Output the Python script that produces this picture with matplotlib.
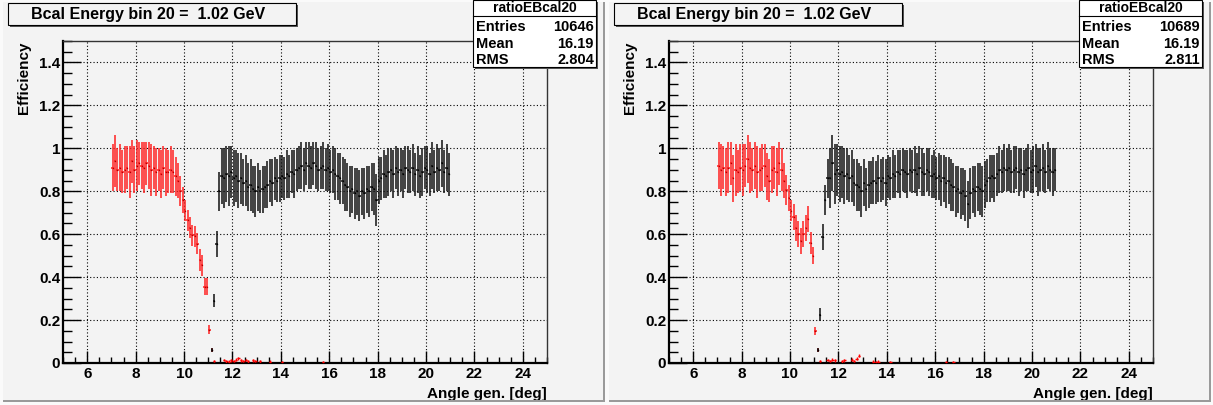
import numpy as np
import matplotlib
matplotlib.use("Agg")
import matplotlib.pyplot as plt
from matplotlib.patches import Rectangle
from matplotlib.ticker import MultipleLocator, FormatStrFormatter

plt.rcParams['font.family'] = ['Liberation Sans', 'DejaVu Sans']

W, H = 1213, 405
BIN = 0.1
XERR = 0.05

title = "Bcal Energy bin 20 =  1.02 GeV"
hist_name = "ratioEBcal20"

# ---------------- left panel ----------------
left_red_start = 7.05
left_red = [0.91, 0.94, 0.90, 0.91, 0.89, 0.90, 0.91, 0.89, 0.94, 0.90,
            0.92, 0.93, 0.92, 0.91, 0.93, 0.92, 0.90, 0.91, 0.89, 0.90,
            0.88, 0.91, 0.89, 0.89, 0.90, 0.89, 0.87, 0.85, 0.80, 0.76,
            0.71, 0.665, 0.63, 0.595, 0.59, 0.556, 0.48, 0.455, 0.355, 0.355,
            0.155, 0.06]
left_red_err = [0.11, 0.12, 0.10, 0.11, 0.10, 0.11, 0.10, 0.12, 0.10, 0.11,
                0.12, 0.10, 0.11, 0.12, 0.10, 0.11, 0.12, 0.10, 0.11, 0.10,
                0.11, 0.10, 0.11, 0.10, 0.11, 0.10, 0.09, 0.08, 0.07, 0.06,
                0.05, 0.05, 0.05, 0.05, 0.05, 0.05, 0.05, 0.05, 0.04, 0.04,
                0.02, 0.01]
left_blk_start = 11.15
left_blk = [0.06, 0.29, 0.555, 0.80, 0.87, 0.86, 0.88, 0.87, 0.89, 0.86,
            0.87, 0.85, 0.86, 0.84, 0.85, 0.82, 0.83, 0.81, 0.80, 0.82,
            0.80, 0.81, 0.82, 0.83, 0.85, 0.84, 0.86, 0.85, 0.86, 0.87,
            0.86, 0.88, 0.87, 0.89, 0.88, 0.90, 0.91, 0.92, 0.90, 0.93,
            0.92, 0.91, 0.93, 0.92, 0.90, 0.91, 0.92, 0.90, 0.91, 0.89,
            0.90, 0.88, 0.87, 0.86, 0.85, 0.83, 0.82, 0.80, 0.81, 0.79,
            0.80, 0.78, 0.80, 0.79, 0.81, 0.80, 0.82, 0.81, 0.76, 0.85,
            0.86, 0.88, 0.87, 0.89, 0.90, 0.88, 0.91, 0.89, 0.90, 0.88,
            0.91, 0.90, 0.89, 0.91, 0.88, 0.90, 0.87, 0.89, 0.91, 0.90,
            0.88, 0.92, 0.89, 0.91, 0.90, 0.93, 0.89, 0.91, 0.88]
left_blk_err = [0.01, 0.03, 0.06, 0.09, 0.13, 0.14, 0.13, 0.14, 0.12, 0.13,
                0.12, 0.13, 0.12, 0.11, 0.12, 0.11, 0.12, 0.11, 0.12, 0.11,
                0.10, 0.11, 0.10, 0.11, 0.10, 0.11, 0.10, 0.10, 0.11, 0.10,
                0.10, 0.11, 0.10, 0.10, 0.11, 0.10, 0.10, 0.11, 0.10, 0.10,
                0.11, 0.10, 0.10, 0.11, 0.10, 0.10, 0.11, 0.10, 0.11, 0.10,
                0.11, 0.12, 0.11, 0.12, 0.11, 0.12, 0.11, 0.12, 0.11, 0.12,
                0.11, 0.12, 0.11, 0.12, 0.11, 0.12, 0.11, 0.12, 0.12, 0.11,
                0.10, 0.11, 0.10, 0.11, 0.10, 0.11, 0.10, 0.11, 0.10, 0.11,
                0.10, 0.11, 0.10, 0.11, 0.10, 0.11, 0.10, 0.11, 0.10, 0.11,
                0.10, 0.11, 0.10, 0.11, 0.10, 0.11, 0.10, 0.11, 0.10]
left_low_x = [11.25, 11.65, 11.75, 11.85, 11.95, 12.05, 12.15, 12.25, 12.35,
              12.45, 12.55, 12.65, 12.85, 12.95, 13.15, 13.55, 14.05, 15.75]
left_low_y = [0.010, 0.014, 0.008, 0.006, 0.012, 0.010, 0.016, 0.022, 0.012,
              0.010, 0.014, 0.008, 0.012, 0.010, 0.008, 0.006, 0.004, 0.004]
left_stats = ("10646", "16.19", "2.804")

# ---------------- right panel ----------------
right_red_start = 7.05
right_red = [0.92, 0.90, 0.91, 0.89, 0.91, 0.93, 0.86, 0.90, 0.89, 0.91,
             0.90, 0.92, 0.95, 0.91, 0.90, 0.92, 0.89, 0.90, 0.91, 0.92,
             0.87, 0.85, 0.90, 0.91, 0.89, 0.93, 0.90, 0.85, 0.805, 0.77,
             0.71, 0.68, 0.63, 0.60, 0.57, 0.60, 0.63, 0.67, 0.56, 0.50,
             0.15, 0.06]
right_red_err = [0.11, 0.12, 0.10, 0.11, 0.12, 0.10, 0.11, 0.12, 0.10, 0.11,
                 0.12, 0.10, 0.11, 0.12, 0.10, 0.11, 0.12, 0.10, 0.11, 0.10,
                 0.11, 0.10, 0.11, 0.10, 0.11, 0.10, 0.10, 0.08, 0.07, 0.06,
                 0.05, 0.06, 0.06, 0.06, 0.06, 0.06, 0.06, 0.06, 0.05, 0.04,
                 0.02, 0.01]
right_blk_start = 11.15
right_blk = [0.06, 0.224, 0.587, 0.76, 0.86, 0.86, 0.93, 0.88, 0.90, 0.88,
             0.89, 0.87, 0.88, 0.86, 0.87, 0.84, 0.83, 0.82, 0.80, 0.84,
             0.81, 0.83, 0.84, 0.85, 0.84, 0.86, 0.85, 0.86, 0.84, 0.87,
             0.86, 0.88, 0.87, 0.89, 0.88, 0.90, 0.89, 0.88, 0.90, 0.89,
             0.90, 0.88, 0.91, 0.89, 0.88, 0.90, 0.89, 0.87, 0.88, 0.86,
             0.87, 0.85, 0.86, 0.84, 0.85, 0.83, 0.82, 0.80, 0.81, 0.79,
             0.80, 0.78, 0.74, 0.79, 0.81, 0.80, 0.82, 0.81, 0.80, 0.83,
             0.85, 0.86, 0.87, 0.86, 0.88, 0.90, 0.89, 0.91, 0.90, 0.91,
             0.89, 0.90, 0.91, 0.89, 0.90, 0.88, 0.90, 0.91, 0.89, 0.90,
             0.92, 0.89, 0.90, 0.91, 0.89, 0.92, 0.90, 0.89, 0.90]
right_blk_err = left_blk_err[:3] + [0.07, 0.09] + left_blk_err[5:]
right_low_x = [11.25, 11.55, 11.65, 11.75, 11.85, 12.15, 12.25, 12.55, 12.65,
               12.75, 12.85, 13.45, 13.55, 13.65, 14.15, 16.45, 16.75]
right_low_y = [0.010, 0.014, 0.010, 0.016, 0.012, 0.008, 0.012, 0.016, 0.010,
               0.020, 0.034, 0.006, 0.004, 0.006, 0.004, 0.004, 0.004]
right_stats = ("10689", "16.19", "2.811")


def fig_rect(fig, x0, y0, x1, y1, **kw):
    # pixel coords (top-left origin) -> figure fraction
    r = Rectangle((x0 / W, 1 - y1 / H), (x1 - x0) / W, (y1 - y0) / H,
                  transform=fig.transFigure, **kw)
    fig.add_artist(r)
    return r


def draw_panel(fig, off, red_start, red, red_err, blk_start, blk, blk_err,
               low_x, low_y, stats):
    # pad frame
    fig_rect(fig, off + 3, 2, off + 604, 402, facecolor='#f3f3f3',
             edgecolor='none', zorder=0)
    fig_rect(fig, off + 603, 2, off + 605, 402, facecolor='#9a9a9a',
             edgecolor='none', zorder=1)
    fig_rect(fig, off + 3, 400, off + 605, 402, facecolor='#9a9a9a',
             edgecolor='none', zorder=1)

    ax = fig.add_axes([(off + 63) / W, 1 - 363 / H, 484 / W, 322 / H])
    ax.set_facecolor('#f3f3f3')
    ax.set_xlim(5, 25)
    ax.set_ylim(0, 1.5)

    xr = red_start + BIN * np.arange(len(red))
    xb = blk_start + BIN * np.arange(len(blk))
    ax.errorbar(xr, red, yerr=red_err, xerr=XERR, fmt='s', ms=0.9, mew=0,
                color='#b00000', ecolor='#ff2020', elinewidth=1.1,
                capsize=0, zorder=3)
    ax.errorbar(xb, blk, yerr=blk_err, xerr=XERR, fmt='s', ms=0.9, mew=0,
                color='black', ecolor='#111111', elinewidth=1.1,
                capsize=0, zorder=3)
    ax.errorbar(low_x, low_y, yerr=0.006, xerr=XERR, fmt='s', ms=1.0, mew=0,
                color='#ff0000', ecolor='#ff0000', elinewidth=1.0,
                capsize=0, zorder=3)

    ax.xaxis.set_minor_locator(MultipleLocator(0.5))
    ax.yaxis.set_major_locator(MultipleLocator(0.2))
    ax.yaxis.set_minor_locator(MultipleLocator(0.05))
    ax.yaxis.set_major_formatter(FormatStrFormatter('%g'))
    ax.set_xticks(np.arange(6, 25, 2))
    ax.grid(True, which='major', color='black', linestyle=(0, (1, 2)),
            linewidth=0.8)
    ax.tick_params(which='both', direction='in', top=False, right=False,
                   width=1.0, labelsize=11)
    ax.tick_params(axis='x', which='major', length=9, pad=3)
    ax.tick_params(axis='x', which='minor', length=4.5)
    ax.tick_params(axis='y', which='major', length=13, pad=2)
    ax.tick_params(axis='y', which='minor', length=6.5)
    for lab in ax.get_xticklabels() + ax.get_yticklabels():
        lab.set_fontweight('bold')
    for side in ('left', 'bottom'):
        ax.spines[side].set_linewidth(1.6)
    for side in ('top', 'right'):
        ax.spines[side].set_linewidth(1.0)
        ax.spines[side].set_color('#333333')

    ax.set_xlabel("Angle gen. [deg]", fontsize=11, fontweight='bold')
    ax.xaxis.set_label_coords(1.0, -0.075)
    ax.xaxis.label.set_horizontalalignment('right')
    ax.set_ylabel("Efficiency", fontsize=11, fontweight='bold')
    ax.yaxis.set_label_coords(-0.066, 1.0)
    ax.yaxis.label.set_horizontalalignment('right')

    # title box
    fig_rect(fig, off + 10, 5, off + 298, 27, facecolor='#555555',
             edgecolor='none', zorder=5)
    fig_rect(fig, off + 8, 3, off + 296, 25, facecolor='#f3f3f3',
             edgecolor='black', linewidth=0.8, zorder=6)
    fig.text((off + 148) / W, 1 - 14 / H, title, ha='center', va='center',
             fontsize=11.5, fontweight='bold', zorder=7)

    # stats box
    fig_rect(fig, off + 475, 2, off + 598, 69, facecolor='#555555',
             edgecolor='none', zorder=5)
    fig_rect(fig, off + 473, 0, off + 596, 67, facecolor='white',
             edgecolor='black', linewidth=0.8, zorder=6)
    fig.add_artist(plt.Line2D([(off + 473) / W, (off + 596) / W],
                              [1 - 16 / H, 1 - 16 / H], color='black',
                              linewidth=0.8, transform=fig.transFigure,
                              zorder=7))
    fig.text((off + 534.5) / W, 1 - 8.5 / H, hist_name, ha='center',
             va='center', fontsize=10, fontweight='bold', fontstretch='condensed',
             zorder=8)
    rows = ["Entries", "Mean", "RMS"]
    for i, (name, val) in enumerate(zip(rows, stats)):
        yy = 1 - (27 + 16.5 * i) / H
        fig.text((off + 476) / W, yy, name, ha='left', va='center',
                 fontsize=10.5, fontweight='bold', zorder=8)
        fig.text((off + 594) / W, yy, val, ha='right', va='center',
                 fontsize=10.5, fontweight='bold', zorder=8)
    return ax


fig = plt.figure(figsize=(W / 100, H / 100), dpi=100, facecolor='#fafafa')
draw_panel(fig, 0, left_red_start, left_red, left_red_err, left_blk_start,
           left_blk, left_blk_err, left_low_x, left_low_y, left_stats)
draw_panel(fig, 606, right_red_start, right_red, right_red_err,
           right_blk_start, right_blk, right_blk_err, right_low_x,
           right_low_y, right_stats)

fig.savefig("out.png", dpi=100, facecolor=fig.get_facecolor())
